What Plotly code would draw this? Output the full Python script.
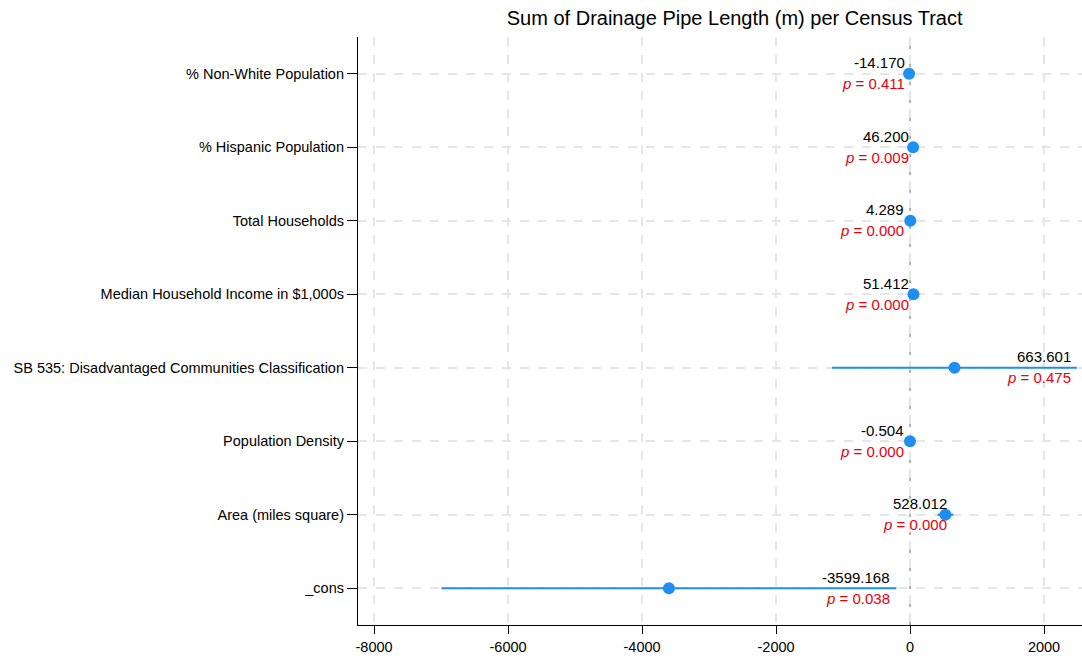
import plotly.graph_objects as go

labels = ["% Non-White Population", "% Hispanic Population", "Total Households",
          "Median Household Income in $1,000s", "SB 535: Disadvantaged Communities Classification",
          "Population Density", "Area (miles square)", "_cons"]
coef = [-14.170, 46.200, 4.289, 51.412, 663.601, -0.504, 528.012, -3599.168]
ci_lo = [-48.0, 11.5, 3.3, 35.0, -1164.0, -0.7, 410.0, -6994.0]
ci_hi = [19.7, 80.9, 5.3, 67.0, 2491.0, -0.3, 646.0, -204.0]
pvals = ["0.411", "0.009", "0.000", "0.000", "0.475", "0.000", "0.000", "0.038"]
xticks = [-8000, -6000, -4000, -2000, 0, 2000]

n = len(labels)
ypos = [n - i for i in range(n)]
blue = "#1e8ef0"
font = "Liberation Sans, Arial, Helvetica, sans-serif"

fig = go.Figure()
fig.add_trace(go.Scatter(
    x=coef, y=ypos, mode="markers",
    marker=dict(color=blue, size=12),
    error_x=dict(type="data", symmetric=False,
                 array=[h - c for h, c in zip(ci_hi, coef)],
                 arrayminus=[c - l for c, l in zip(coef, ci_lo)],
                 color=blue, thickness=2.2, width=0),
    showlegend=False, hoverinfo="skip"))

for i in range(n):
    fig.add_annotation(x=ci_hi[i], y=ypos[i], text=f"{coef[i]:.3f}", showarrow=False,
                       xanchor="right", yanchor="middle", xshift=-4, yshift=11,
                       font=dict(family=font, size=15, color="black"))
    fig.add_annotation(x=ci_hi[i], y=ypos[i], text=f"<i>p</i> = {pvals[i]}", showarrow=False,
                       xanchor="right", yanchor="middle", xshift=-4, yshift=-10,
                       font=dict(family=font, size=15, color="#e8000b"))

fig.add_shape(type="line", x0=0, x1=0, y0=0, y1=1, yref="paper", xref="x",
              line=dict(color="#888888", width=1.3, dash="dash"), layer="below")

fig.update_layout(
    width=1082, height=658,
    margin=dict(l=358, r=0, t=37, b=33),
    plot_bgcolor="white", paper_bgcolor="white",
    font=dict(family=font, size=14.5, color="black"),
    title=dict(text="Sum of Drainage Pipe Length (m) per Census Tract",
               x=0.679, xanchor="center", y=0.973, yanchor="middle",
               font=dict(family=font, size=20, color="black")),
    xaxis=dict(range=[-8240, 2567], tickvals=xticks, ticktext=[str(t) for t in xticks],
               showgrid=True, gridcolor="#e6e6e6", griddash="dash", gridwidth=1.5,
               zeroline=False, showline=True, linecolor="black", linewidth=1.2,
               ticks="outside", ticklen=8, tickcolor="black", tickfont=dict(size=14.5)),
    yaxis=dict(range=[0.5, 8.5], tickvals=ypos, ticktext=labels,
               showgrid=True, gridcolor="#e6e6e6", griddash="dash", gridwidth=1.5,
               zeroline=False, showline=True, linecolor="black", linewidth=1.2,
               ticks="outside", ticklen=10, tickcolor="black", tickfont=dict(size=14.5)),
)

fig.write_html("out.html", config={"displayModeBar": False},
               post_script="document.body.style.margin='0px';")
